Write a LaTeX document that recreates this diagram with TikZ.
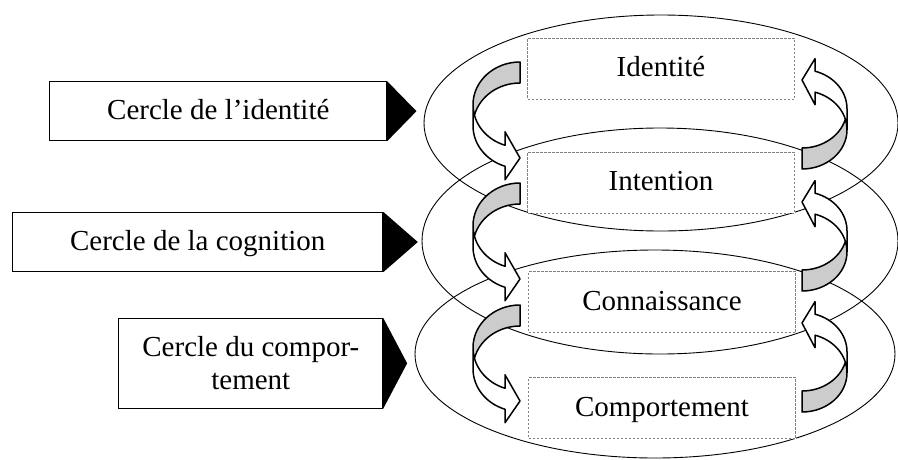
\documentclass[tikz,border=0pt]{standalone}
\usepackage{fontspec}
\setmainfont{Liberation Serif}
\tikzset{
  ell/.style={draw=black, line width=0.9pt},
  dbox/.style={draw=black!50, dash pattern=on 2.5pt off 1.5pt, line width=0.8pt, fill=white,
    minimum width=267pt, minimum height=61pt, inner sep=0pt, text height=20pt, text depth=4pt,
    font=\fontsize{29}{33}\selectfont},
  lbox/.style={draw=black, line width=1pt, fill=white, inner sep=0pt,
    font=\fontsize{29}{33}\selectfont},
  oneline/.style={text height=20pt, text depth=4pt},
  arrline/.style={draw=black, line width=1.5pt, line join=round},
  backface/.style={fill=black!20},
}
% curved arrow (Word-like curvedRightArrow), local coords: x right, y down
% #1 width, #2 height, #3 shaft thickness, #4 head width, #5 head length
\newcommand\curvedarr[5]{%
  \pgfmathsetmacro\cvW{#1}%
  \pgfmathsetmacro\cvH{#2}%
  \pgfmathsetmacro\cvT{#3}%
  \pgfmathsetmacro\cvA{#4}%
  \pgfmathsetmacro\cvL{#5}%
  \pgfmathsetmacro\cvR{\cvH/2-(\cvT+\cvA)/4}%
  \pgfmathsetmacro\cvDY{sqrt(\cvW*\cvW-\cvL*\cvL)*\cvR/\cvW}%
  \pgfmathsetmacro\cvYfive{\cvR+\cvDY}%
  \pgfmathsetmacro\cvYthree{\cvR+\cvT}%
  \pgfmathsetmacro\cvYseven{\cvYthree+\cvDY}%
  \pgfmathsetmacro\cvDH{(\cvA-\cvT)/2}%
  \pgfmathsetmacro\cvYfour{\cvYfive-\cvDH}%
  \pgfmathsetmacro\cvYeight{\cvYseven+\cvDH}%
  \pgfmathsetmacro\cvYsix{\cvH-\cvA/2}%
  \pgfmathsetmacro\cvXone{\cvW-\cvL}%
  \pgfmathsetmacro\cvB{180-acos(\cvL/\cvW)}%
  \pgfmathsetmacro\cvC{asin(\cvT/(2*\cvR))}%
  \pgfmathsetmacro\cvCa{180+\cvC}%
  \pgfmathsetmacro\cvCb{180-\cvC}%
  \fill[white] (0,\cvR) arc[start angle=180, end angle=\cvB, x radius=\cvW, y radius=\cvR]
     -- (\cvXone,\cvYfour) -- (\cvW,\cvYsix) -- (\cvXone,\cvYeight) -- (\cvXone,\cvYseven)
     arc[start angle=\cvB, end angle=180, x radius=\cvW, y radius=\cvR] -- cycle;
  \fill[backface] (\cvW,\cvT) arc[start angle=270, end angle=\cvCa, x radius=\cvW, y radius=\cvR]
     arc[start angle=\cvCb, end angle=270, x radius=\cvW, y radius=\cvR] -- cycle;
  \draw[arrline] (0,\cvR) arc[start angle=180, end angle=\cvB, x radius=\cvW, y radius=\cvR]
     -- (\cvXone,\cvYfour) -- (\cvW,\cvYsix) -- (\cvXone,\cvYeight) -- (\cvXone,\cvYseven)
     arc[start angle=\cvB, end angle=180, x radius=\cvW, y radius=\cvR] -- (0,\cvR)
     arc[start angle=180, end angle=270, x radius=\cvW, y radius=\cvR] -- (\cvW,\cvT)
     arc[start angle=270, end angle=\cvCa, x radius=\cvW, y radius=\cvR];
}
\begin{document}
\begin{tikzpicture}[x=1pt,y=-1pt]
\useasboundingbox (0,0) rectangle (898,459);
% circles
\draw[ell] (661,123) ellipse[x radius=237, y radius=108];
\draw[ell] (660,241) ellipse[x radius=238, y radius=113];
\draw[ell] (655,354) ellipse[x radius=240, y radius=104];
% levels
\node[dbox] (id) at (661,68.5) {Identité};
\node[dbox] (in) at (661,182.5) {Intention};
\node[dbox] (co) at (662,302) {Connaissance};
\node[dbox] (cp) at (662,408) {Comportement};
% downward arrows (left side)
\begin{scope}[shift={(473,62)}]\curvedarr{47}{120}{21}{48}{15}\end{scope}
\begin{scope}[shift={(473,183)}]\curvedarr{47}{120}{21}{48}{15}\end{scope}
\begin{scope}[shift={(473,305)}]\curvedarr{47}{120}{21}{48}{15}\end{scope}
% upward arrows (right side)
\begin{scope}[shift={(847,169)}, rotate=180]\curvedarr{45}{112}{21}{46}{13}\end{scope}
\begin{scope}[shift={(847,291)}, rotate=180]\curvedarr{45}{112}{21}{46}{13}\end{scope}
\begin{scope}[shift={(847,412)}, rotate=180]\curvedarr{45}{112}{21}{46}{13}\end{scope}
% labels on the left
\node[lbox, oneline, minimum width=336.7pt, minimum height=59pt] (ca) at (218.3,111.2) {Cercle de l’identité};
\node[lbox, oneline, minimum width=370pt, minimum height=59.4pt] (cb) at (197.7,242) {Cercle de la cognition};
\node[lbox, align=center, minimum width=263.7pt, minimum height=90pt] (cc) at (250.8,363.3) {Cercle du compor-\\tement};
\fill (ca.north east) -- ([xshift=29.3pt]ca.east) -- (ca.south east) -- cycle;
\fill (cb.north east) -- ([xshift=34.6pt]cb.east) -- (cb.south east) -- cycle;
\fill (cc.north east) -- ([xshift=24pt]cc.east) -- (cc.south east) -- cycle;
\end{tikzpicture}
\end{document}
